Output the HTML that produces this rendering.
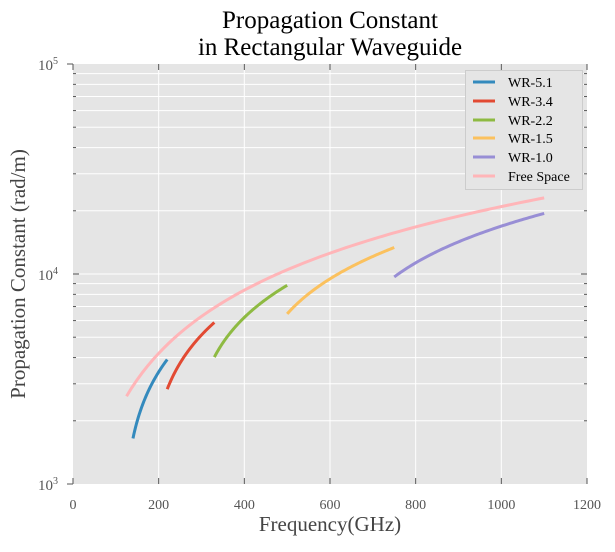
<!DOCTYPE html>
<html><head><meta charset="utf-8"><style>
body{margin:0;background:#fff}
text{font-family:"Liberation Serif",serif}
</style></head><body>
<svg id="s" width="615" height="547" xmlns="http://www.w3.org/2000/svg">
<rect width="615" height="547" fill="#fff"/>
<rect x="73" y="64" width="514" height="420" fill="#e5e5e5"/>
<g id="grid" stroke="#fff" stroke-width="1"></g>
<g id="curves" fill="none" stroke-width="3"></g>
<g id="ticks" stroke="#555" stroke-width="1"></g>
<g id="labels" font-size="14" fill="#555"></g>
<text x="330" y="28" font-size="25" text-anchor="middle" fill="#000">Propagation Constant</text>
<text x="330" y="55" font-size="25" text-anchor="middle" fill="#000">in Rectangular Waveguide</text>
<text x="330" y="531" font-size="21" text-anchor="middle" fill="#444">Frequency(GHz)</text>
<text transform="translate(25,274) rotate(-90)" font-size="21" text-anchor="middle" fill="#444">Propagation Constant (rad/m)</text>
<g>
<rect x="465.5" y="70.5" width="117" height="119" fill="#e5e5e5" stroke="#ccc"/>
<g stroke-width="3">
<line x1="473" y1="82" x2="495" y2="82" stroke="#348abd"/>
<line x1="473" y1="101" x2="495" y2="101" stroke="#e24a33"/>
<line x1="473" y1="120" x2="495" y2="120" stroke="#8eba42"/>
<line x1="473" y1="138" x2="495" y2="138" stroke="#fbc15e"/>
<line x1="473" y1="157" x2="495" y2="157" stroke="#988ed5"/>
<line x1="473" y1="176" x2="495" y2="176" stroke="#ffb5b8"/>
</g>
<g font-size="14" fill="#000">
<text x="508" y="87">WR-5.1</text>
<text x="508" y="106">WR-3.4</text>
<text x="508" y="125">WR-2.2</text>
<text x="508" y="143">WR-1.5</text>
<text x="508" y="162">WR-1.0</text>
<text x="508" y="181">Free Space</text>
</g>
</g>
</svg>
<script>
var ns="http://www.w3.org/2000/svg";
function X(f){return 73+f*514/1200;}
function Y(v){return 484-(Math.log10(v)-3)*210;}
function el(p,t,a,txt){var e=document.createElementNS(ns,t);for(var k in a)e.setAttribute(k,a[k]);if(txt)e.textContent=txt;document.getElementById(p).appendChild(e);return e;}
for(var f=200;f<1200;f+=200)el("grid","line",{x1:X(f),x2:X(f),y1:64,y2:484});
for(var d=3;d<5;d++)for(var m=1;m<10;m++){var v=m*Math.pow(10,d);if(v==1000)continue;var y=Y(v);el("grid","line",{x1:73,x2:587,y1:y,y2:y});
var L=m==1?6:3;el("ticks","line",{x1:73,x2:73+L,y1:y,y2:y});el("ticks","line",{x1:587,x2:587-L,y1:y,y2:y});}
for(var f=0;f<=1200;f+=200){el("ticks","line",{x1:X(f),x2:X(f),y1:484,y2:478});el("ticks","line",{x1:X(f),x2:X(f),y1:64,y2:70});
el("labels","text",{x:X(f),y:509,"text-anchor":"middle"},""+f);}
el("ticks","line",{x1:67,x2:73,y1:484,y2:484});el("ticks","line",{x1:67,x2:73,y1:64,y2:64});
[[3,490],[4,280],[5,70]].forEach(function(a){var t=el("labels","text",{x:38,y:a[1],"font-size":"15"},"10");var s=document.createElementNS(ns,"tspan");s.setAttribute("dy","-6");s.setAttribute("font-size","10");s.textContent=a[0];t.appendChild(s);});
var c=3e8;
function curve(f0,f1,a,col){var d="";for(var i=0;i<=80;i++){var f=f0+(f1-f0)*i/80;var k=2*Math.PI*f*1e9/c;var kc=a?Math.PI/a:0;var b=Math.sqrt(k*k-kc*kc);d+=(i?"L":"M")+X(f).toFixed(2)+","+Y(b).toFixed(2);}el("curves","path",{d:d,stroke:col});}
curve(125,1100,0,"#ffb5b8");
curve(140,220,1.2954e-3,"#348abd");
curve(220,330,0.8636e-3,"#e24a33");
curve(330,500,0.5588e-3,"#8eba42");
curve(500,750,0.381e-3,"#fbc15e");
curve(750,1100,0.254e-3,"#988ed5");
</script>
</body></html>
